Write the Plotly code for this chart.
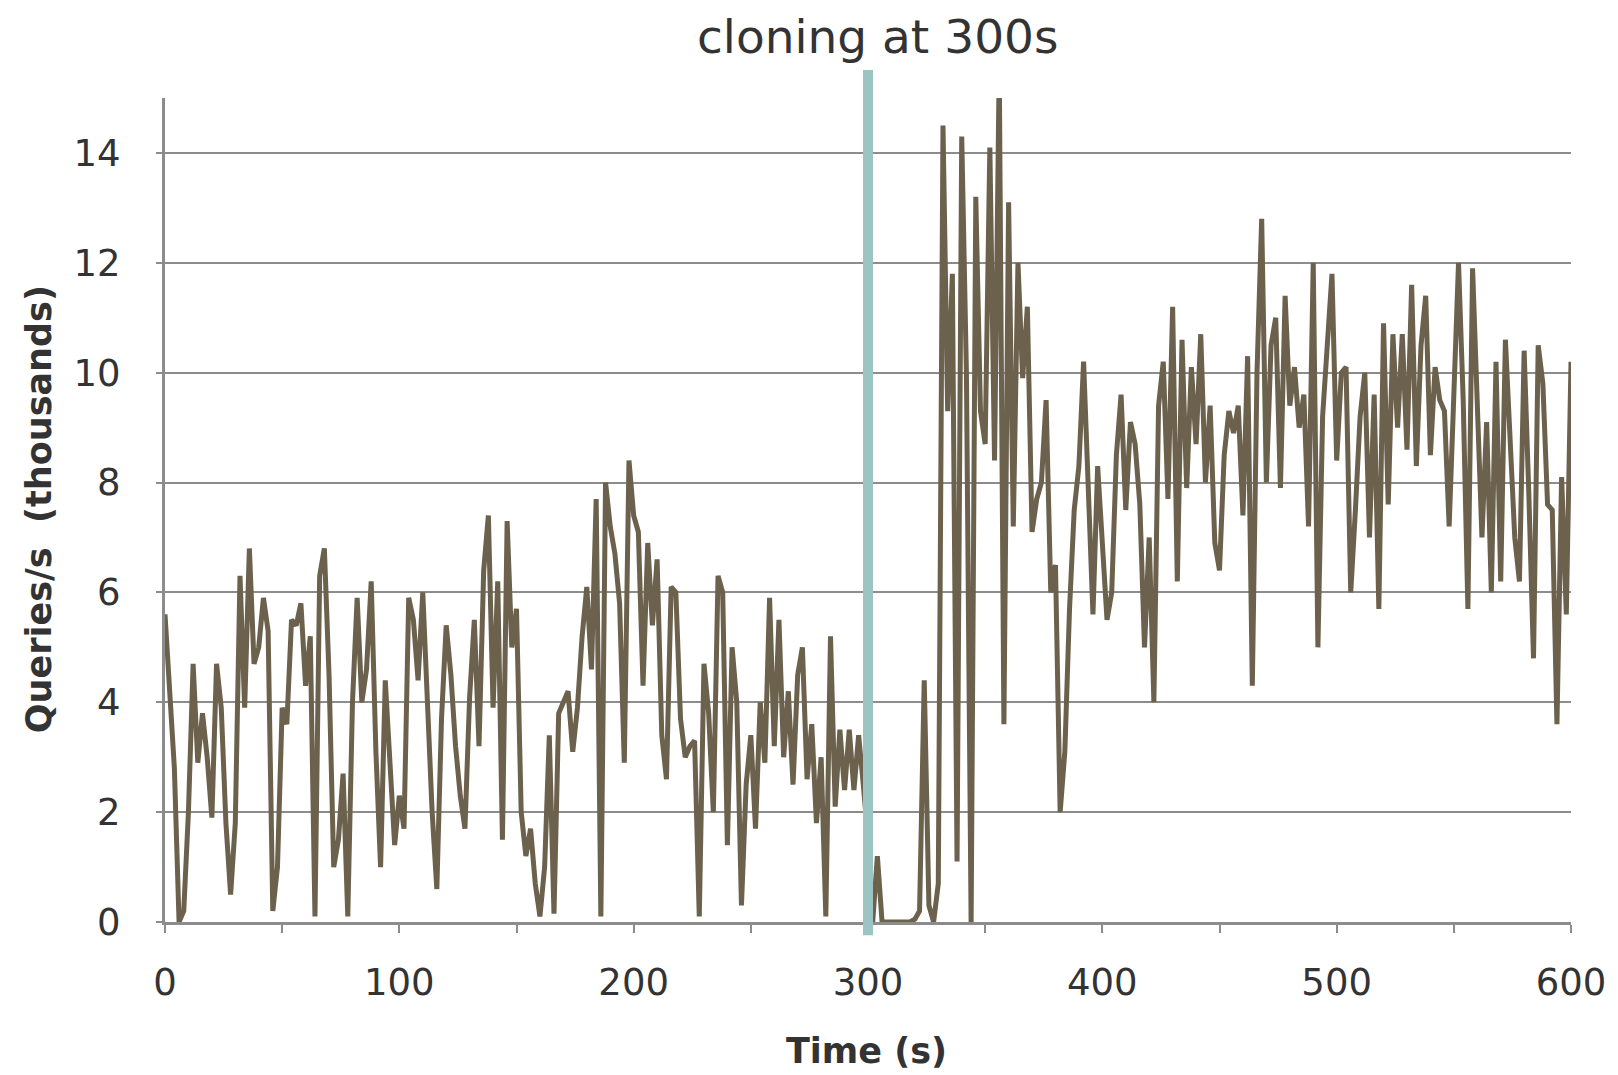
import plotly.graph_objects as go

# ---- data ----
time_s = list(range(0, 601, 2))
queries_k = [
    5.6, 4.2, 2.8, 0.0, 0.2, 2.0, 4.7, 2.9, 3.8, 3.0,
    1.9, 4.7, 3.9, 1.8, 0.5, 1.8, 6.3, 3.9, 6.8, 4.7,
    5.0, 5.9, 5.3, 0.2, 1.0, 3.9, 3.6, 5.5, 5.4, 5.8,
    4.3, 5.2, 0.1, 6.3, 6.8, 4.5, 1.0, 1.5, 2.7, 0.1,
    4.0, 5.9, 4.0, 4.6, 6.2, 3.1, 1.0, 4.4, 2.8, 1.4,
    2.3, 1.7, 5.9, 5.5, 4.4, 6.0, 4.0, 2.0, 0.6, 3.7,
    5.4, 4.5, 3.2, 2.3, 1.7, 4.1, 5.5, 3.2, 6.4, 7.4,
    3.9, 6.2, 1.5, 7.3, 5.0, 5.7, 2.0, 1.2, 1.7, 0.7,
    0.1, 1.0, 3.4, 0.15, 3.8, 4.0, 4.2, 3.1, 3.9, 5.2,
    6.1, 4.6, 7.7, 0.1, 8.0, 7.2, 6.7, 5.8, 2.9, 8.4,
    7.4, 7.1, 4.3, 6.9, 5.4, 6.6, 3.4, 2.6, 6.1, 6.0,
    3.7, 3.0, 3.2, 3.3, 0.1, 4.7, 3.8, 2.0, 6.3, 6.0,
    1.4, 5.0, 4.0, 0.3, 2.5, 3.4, 1.7, 4.0, 2.9, 5.9,
    3.2, 5.5, 3.0, 4.2, 2.5, 4.5, 5.0, 2.6, 3.6, 1.8,
    3.0, 0.1, 5.2, 2.1, 3.5, 2.4, 3.5, 2.4, 3.4, 2.5,
    1.5, 0.0, 1.2, 0.0, 0.0, 0.0, 0.0, 0.0, 0.0, 0.0,
    0.05, 0.2, 4.4, 0.3, 0.0, 0.7, 14.5, 9.3, 11.8, 1.1,
    14.3, 10.0, 0.0, 13.2, 9.3, 8.7, 14.1, 8.4, 15.6, 3.6,
    13.1, 7.2, 12.0, 9.9, 11.2, 7.1, 7.7, 8.0, 9.5, 6.0,
    6.5, 2.0, 3.1, 5.7, 7.5, 8.3, 10.2, 8.1, 5.6, 8.3,
    6.8, 5.5, 6.0, 8.5, 9.6, 7.5, 9.1, 8.7, 7.6, 5.0,
    7.0, 4.0, 9.4, 10.2, 7.7, 11.2, 6.2, 10.6, 7.9, 10.1,
    8.7, 10.7, 8.0, 9.4, 6.9, 6.4, 8.5, 9.3, 8.9, 9.4,
    7.4, 10.3, 4.3, 10.0, 12.8, 8.0, 10.5, 11.0, 7.9, 11.4,
    9.4, 10.1, 9.0, 9.6, 7.2, 12.0, 5.0, 9.2, 10.5, 11.8,
    8.4, 10.0, 10.1, 6.0, 7.5, 9.2, 10.0, 7.0, 9.6, 5.7,
    10.9, 7.6, 10.7, 9.0, 10.7, 8.6, 11.6, 8.3, 10.5, 11.4,
    8.5, 10.1, 9.5, 9.3, 7.2, 9.6, 12.0, 9.5, 5.7, 11.9,
    9.7, 7.0, 9.1, 6.0, 10.2, 6.2, 10.6, 8.8, 7.0, 6.2,
    10.4, 7.8, 4.8, 10.5, 9.8, 7.6, 7.5, 3.6, 8.1, 5.6,
    10.2,
]
clone_time = 300
x_tick_vals = [0, 100, 200, 300, 400, 500, 600]
y_tick_vals = [0, 2, 4, 6, 8, 10, 12, 14]
title_text = "cloning at 300s"
x_title = "Time (s)"
y_title = "Queries/s  (thousands)"

GRID = "#8c8c8c"
TXT = "#333333"
FONT = "DejaVu Sans"

fig = go.Figure()
fig.add_trace(go.Scatter(
    x=time_s, y=queries_k, mode="lines",
    line=dict(color="#6b614c", width=5),
    showlegend=False, hoverinfo="skip",
))

fig.add_shape(type="line", xref="x", yref="paper",
              x0=clone_time, x1=clone_time, y0=-0.016, y1=1.034,
              line=dict(color="#9cc4c2", width=10), layer="above")

# page body has an 8px default margin; compensate so the plot lands where the reference's does
fig.update_layout(
    width=1618, height=1075,
    margin=dict(l=157, r=55, t=90, b=161, autoexpand=False),
    paper_bgcolor="white", plot_bgcolor="white",
    font=dict(family=FONT, color=TXT),
    xaxis=dict(
        range=[0, 600], tickvals=x_tick_vals, automargin=False,
        showgrid=False, zeroline=False,
        showline=True, linecolor=GRID, linewidth=2.5,
        ticks="outside", ticklen=8, tickwidth=2, tickcolor=GRID,
        minor=dict(dtick=50, tick0=0, ticks="outside", ticklen=8, tickwidth=2, tickcolor=GRID),
        tickfont=dict(family=FONT, size=37, color=TXT),
        ticklabelstandoff=18,
    ),
    yaxis=dict(
        range=[0, 15], tickvals=y_tick_vals, automargin=False,
        showgrid=True, gridcolor=GRID, gridwidth=2, zeroline=False,
        showline=True, linecolor=GRID, linewidth=3,
        ticks="outside", ticklen=6, tickwidth=2, tickcolor=GRID,
        tickfont=dict(family=FONT, size=37, color=TXT),
        ticklabelstandoff=28,
    ),
    annotations=[
        dict(text=title_text, xref="paper", yref="paper", x=0.507, y=1.0752,
             xanchor="center", yanchor="middle", showarrow=False,
             font=dict(family=FONT, size=47, color=TXT)),
        dict(text="<b>" + x_title + "</b>", xref="paper", yref="paper", x=0.499, y=-0.156,
             xanchor="center", yanchor="middle", showarrow=False,
             font=dict(family=FONT, size=35, color=TXT)),
        dict(text="<b>" + y_title + "</b>", xref="paper", yref="paper", x=-0.0896, y=0.501,
             xanchor="center", yanchor="middle", showarrow=False, textangle=-90,
             font=dict(family=FONT, size=35, color=TXT)),
    ],
)

fig.write_html("out.html")
